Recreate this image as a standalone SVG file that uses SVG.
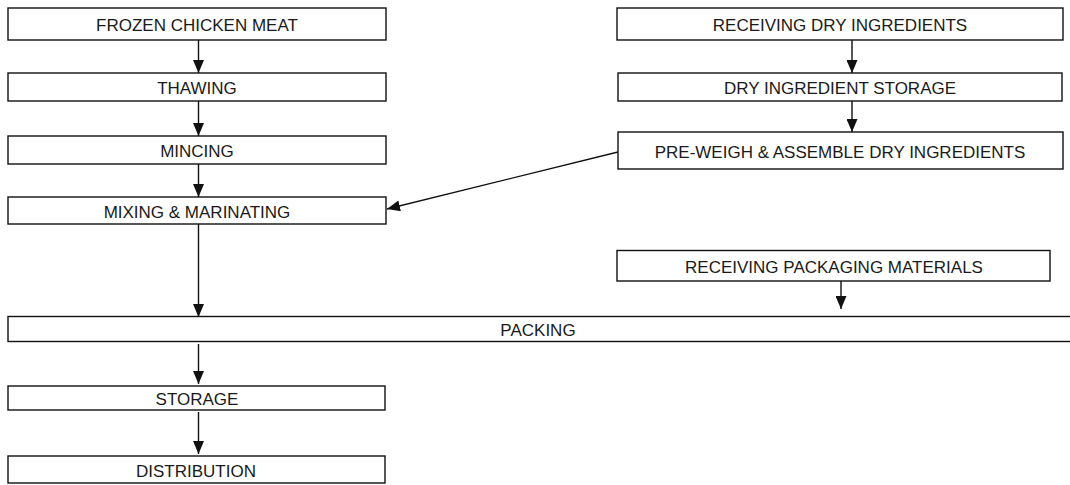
<svg xmlns="http://www.w3.org/2000/svg" width="1070" height="485" viewBox="0 0 1070 485">
<style>
.box{fill:#fff;stroke:#111;stroke-width:1.4}
.lbl{font-family:"Liberation Sans",Arial,sans-serif;font-size:17px;fill:#1a1a1a;text-anchor:middle}
.con{stroke:#111;stroke-width:1.4;fill:none}
</style>
<defs>
<marker id="ah" viewBox="0 0 13 11" refX="13" refY="5.5" markerWidth="13" markerHeight="11" markerUnits="userSpaceOnUse" orient="auto">
<path d="M0,0 L13,5.5 L0,11 Z" fill="#111"/>
</marker>
</defs>
<rect width="1070" height="485" fill="#fff"/>
<g id="connectors">
<line class="con" x1="198.5" y1="40" x2="198.5" y2="73" marker-end="url(#ah)"/>
<line class="con" x1="198.5" y1="101" x2="198.5" y2="136" marker-end="url(#ah)"/>
<line class="con" x1="198.5" y1="164" x2="198.5" y2="197" marker-end="url(#ah)"/>
<line class="con" x1="198.5" y1="224" x2="198.5" y2="317" marker-end="url(#ah)"/>
<line class="con" x1="852" y1="40" x2="852" y2="73" marker-end="url(#ah)"/>
<line class="con" x1="852" y1="101" x2="852" y2="132" marker-end="url(#ah)"/>
<line class="con" x1="618" y1="152" x2="387" y2="209" marker-end="url(#ah)"/>
<line class="con" x1="841" y1="281" x2="841" y2="309" marker-end="url(#ah)"/>
<line class="con" x1="198.5" y1="344" x2="198.5" y2="384" marker-end="url(#ah)"/>
<line class="con" x1="198.5" y1="412" x2="198.5" y2="454" marker-end="url(#ah)"/>
</g>
<g id="n-frozen"><rect class="box" x="8" y="8" width="378" height="32"/><text class="lbl" x="197" y="31">FROZEN CHICKEN MEAT</text></g>
<g id="n-thawing"><rect class="box" x="8" y="73" width="378" height="28"/><text class="lbl" x="197" y="94">THAWING</text></g>
<g id="n-mincing"><rect class="box" x="8" y="136" width="378" height="28"/><text class="lbl" x="197" y="157">MINCING</text></g>
<g id="n-mixing"><rect class="box" x="8" y="197" width="378" height="27"/><text class="lbl" x="197" y="217.5">MIXING &amp; MARINATING</text></g>
<g id="n-recvdry"><rect class="box" x="617" y="8" width="446" height="32"/><text class="lbl" x="840" y="31">RECEIVING DRY INGREDIENTS</text></g>
<g id="n-drystorage"><rect class="box" x="618" y="73" width="444" height="28"/><text class="lbl" x="840" y="94">DRY INGREDIENT STORAGE</text></g>
<g id="n-preweigh"><rect class="box" x="618" y="132" width="445" height="37"/><text class="lbl" x="840" y="157.5">PRE-WEIGH &amp; ASSEMBLE DRY INGREDIENTS</text></g>
<g id="n-recvpack"><rect class="box" x="617" y="250.5" width="433" height="30.5"/><text class="lbl" x="834" y="272.5">RECEIVING PACKAGING MATERIALS</text></g>
<g id="n-packing"><rect class="box" x="8" y="316.5" width="1075" height="25"/><text class="lbl" x="538" y="336">PACKING</text></g>
<g id="n-storage"><rect class="box" x="8" y="386" width="377" height="24"/><text class="lbl" x="197" y="405">STORAGE</text></g>
<g id="n-distribution"><rect class="box" x="8" y="456" width="377" height="27"/><text class="lbl" x="196" y="476.5">DISTRIBUTION</text></g>
</svg>
